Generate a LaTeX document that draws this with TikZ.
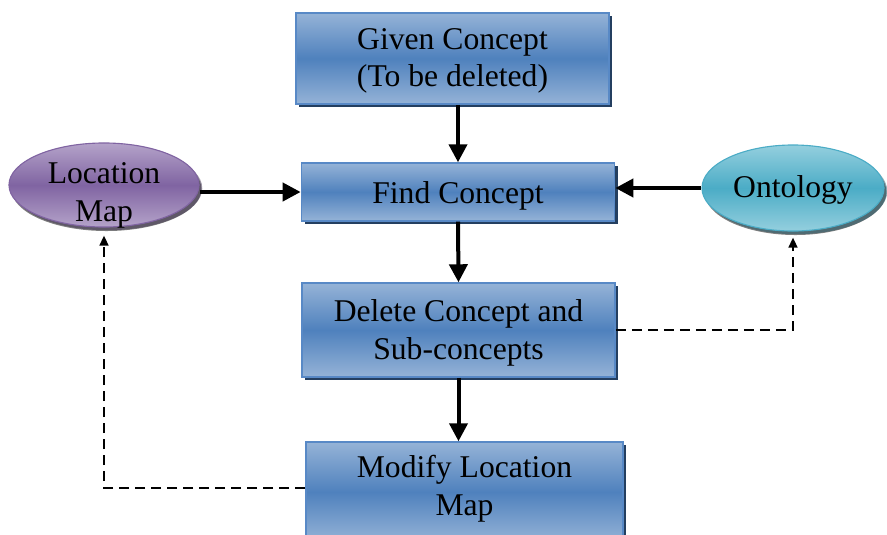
\documentclass[tikz,border=0pt]{standalone}
\usepackage{fontspec}
\setmainfont{Liberation Serif}
\usepackage{tikz}
\usetikzlibrary{positioning,arrows.meta,shapes.geometric,shadows}
\definecolor{BoxLight}{RGB}{149,179,215}
\definecolor{BoxMid}{RGB}{79,129,189}
\definecolor{BoxEdge}{RGB}{88,137,198}
\definecolor{BoxShade}{RGB}{36,63,96}
\definecolor{MapLight}{RGB}{180,163,201}
\definecolor{MapMid}{RGB}{128,100,162}
\definecolor{MapShade}{RGB}{63,49,81}
\definecolor{OntoLight}{RGB}{148,207,222}
\definecolor{OntoMid}{RGB}{75,172,198}
\definecolor{OntoShade}{RGB}{32,88,103}

\begin{document}
\begin{tikzpicture}[
  x=0.025cm, y=-0.025cm,
  every node/.style={font=\fontsize{22.5}{26.5}\selectfont, align=center, text=black},
  lift/.style={text height=#1, text depth=0pt},
  box/.style={draw=BoxEdge, line width=1pt, top color=BoxLight, bottom color=BoxLight, middle color=BoxMid,
    minimum width=7.83cm, inner sep=0pt,
    drop shadow={shadow xshift=0.08cm, shadow yshift=-0.08cm, fill=BoxShade, opacity=1}},
  oval/.style={ellipse, inner sep=0pt, line width=0.8pt,
    drop shadow={shadow xshift=0.06cm, shadow yshift=-0.1cm, opacity=1}},
  flow/.style={draw=black, line width=0.1cm, -{Triangle[length=0.45cm,width=0.45cm]}},
  back/.style={draw=black, line width=0.05cm, dash pattern=on 0.25cm off 0.15cm,
    -{Triangle[length=0.25cm,width=0.22cm]}}
]
\useasboundingbox (0,0) rectangle (887,534);

\node[box, lift=1.42cm, minimum height=2.28cm] (given) at (452.5,58.5) {Given Concept\\(To be deleted)};
\node[box, lift=0.55cm, minimum height=1.45cm] (find) at (458,192) {Find Concept};
\node[box, lift=1.46cm, minimum height=2.35cm] (delete) at (458.5,330) {Delete Concept and\\Sub-concepts};
\node[box, lift=1.16cm, minimum height=2.5cm, minimum width=7.93cm] (modify) at (464.5,492) {Modify Location\\Map};

\node[oval, lift=1.8cm, inner ysep=-0.3cm, draw=MapMid, top color=MapLight, bottom color=MapLight, middle color=MapMid,
  drop shadow={fill=MapShade}, minimum width=4.75cm, minimum height=2.1cm] (locmap) at (104,185) {Location\\Map};
\node[oval, lift=0.45cm, draw=OntoMid, top color=OntoLight, bottom color=OntoLight, middle color=OntoMid,
  drop shadow={fill=OntoShade}, minimum width=4.55cm, minimum height=2.15cm] (onto) at (793,188) {Ontology};

\draw[flow] (find.north |- given.south) -- (find.north);
\draw[flow] (find.south) -- (delete.north);
\draw[flow] (delete.south) -- (delete.south |- modify.north);
\draw[flow] (locmap.east |- find) -- (find.west);
\draw[flow] (onto.west) -- (onto.west -| find.east);

\draw[back, shorten >=0.15cm] (delete.east) -| (onto.south);
\draw[back, shorten >=0.2cm] (modify.west |- 0,488) -| (locmap.south);
\end{tikzpicture}
\end{document}
